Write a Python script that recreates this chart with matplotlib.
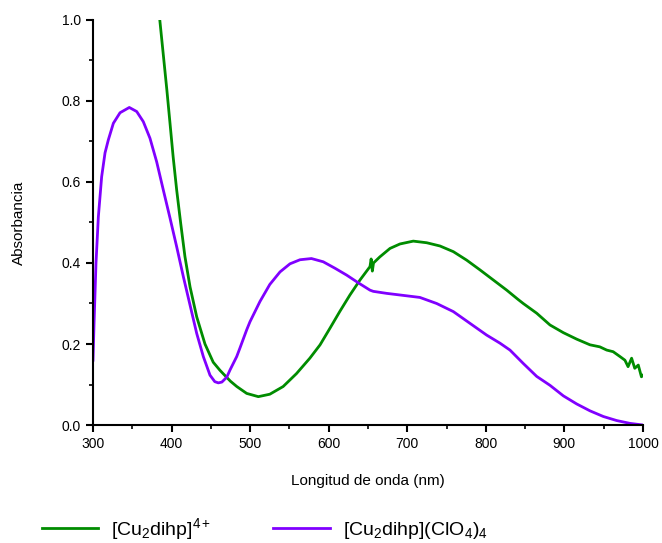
import matplotlib.pyplot as plt
from matplotlib.ticker import MultipleLocator

plt.rcParams['font.family'] = ['Liberation Sans', 'DejaVu Sans']
plt.rcParams['mathtext.fontset'] = 'custom'
plt.rcParams['mathtext.rm'] = 'Liberation Sans'
plt.rcParams['mathtext.it'] = 'Liberation Sans'
plt.rcParams['mathtext.default'] = 'regular'

# espectro [Cu2dihp]4+
wl_a = [385, 394, 398, 402, 406.5, 411.6, 417, 423.5, 432, 442.5, 453, 461.6, 468,
        475, 483, 495.6, 510.4, 525, 542, 559, 576, 589, 601.6, 614, 627, 639.8,
        652.5, 654, 655.5, 657, 665, 678, 690.7, 707.6, 724.7, 741.6, 758.6, 775.6,
        792.5, 809.5, 826.5, 841, 847.6, 864.7, 881.6, 898.6, 915.6, 932.5, 945,
        953.8, 962, 970.7, 977, 981, 985.5, 989.5, 994, 998, 1000]
abs_a = [1.0, 0.827, 0.745, 0.662, 0.58, 0.498, 0.416, 0.341, 0.267, 0.20, 0.155,
         0.135, 0.122, 0.108, 0.095, 0.078, 0.07, 0.076, 0.095, 0.127, 0.165, 0.198,
         0.239, 0.28, 0.321, 0.358, 0.391, 0.41, 0.38, 0.40, 0.415, 0.436, 0.447,
         0.454, 0.45, 0.442, 0.428, 0.407, 0.383, 0.358, 0.333, 0.31, 0.30, 0.276,
         0.247, 0.228, 0.212, 0.198, 0.193, 0.185, 0.181, 0.169, 0.16, 0.144, 0.165,
         0.14, 0.148, 0.119, 0.123]

# espectro [Cu2dihp](ClO4)4
wl_b = [300, 301.3, 303.8, 306.8, 311, 315.3, 319.5, 325.9, 334.4, 346.2, 355.6, 364,
        372.5, 381, 389.5, 398, 406.5, 415, 423.5, 432, 440.4, 448.9, 455, 459.5, 464,
        470.2, 474.4, 482.9, 487, 495.6, 499.8, 512.5, 525, 538, 550.7, 563.4, 578,
        593, 608, 622.9, 637.7, 652.5, 656.7, 673.8, 690.7, 716, 737.4, 758.6, 779.8,
        801, 818, 830.7, 847.6, 864.7, 881.6, 898.6, 915.6, 932.5, 949.5, 966.5,
        983.5, 1000]
abs_b = [0.16, 0.25, 0.40, 0.514, 0.613, 0.672, 0.704, 0.745, 0.771, 0.784, 0.774,
         0.749, 0.708, 0.65, 0.58, 0.511, 0.44, 0.366, 0.296, 0.226, 0.169, 0.123,
         0.107, 0.104, 0.106, 0.118, 0.136, 0.169, 0.19, 0.235, 0.255, 0.305, 0.347,
         0.378, 0.398, 0.408, 0.411, 0.403, 0.387, 0.37, 0.351, 0.333, 0.330, 0.325,
         0.321, 0.315, 0.30, 0.28, 0.251, 0.222, 0.202, 0.185, 0.152, 0.12, 0.098,
         0.072, 0.052, 0.035, 0.021, 0.011, 0.004, 0.0]

fig = plt.figure(figsize=(6.62, 5.43), dpi=100)
ax = fig.add_axes([0.1405, 0.2173, 0.8308, 0.7459])

ax.plot(wl_a, abs_a, color='#008c00', lw=2, label=r'[Cu$_2$dihp]$^{4+}$')
ax.plot(wl_b, abs_b, color='#8000ff', lw=2, label=r'[Cu$_2$dihp](ClO$_4$)$_4$')

ax.set_xlim(300, 1000)
ax.set_ylim(0, 1.0)
ax.xaxis.set_major_locator(MultipleLocator(100))
ax.xaxis.set_minor_locator(MultipleLocator(50))
ax.yaxis.set_major_locator(MultipleLocator(0.2))
ax.yaxis.set_minor_locator(MultipleLocator(0.1))
ax.yaxis.set_major_formatter(plt.FormatStrFormatter('%.1f'))
ax.spines['top'].set_visible(False)
ax.spines['right'].set_visible(False)
ax.spines['left'].set_linewidth(1.5)
ax.spines['bottom'].set_linewidth(1.5)
ax.tick_params(which='major', direction='out', length=5, width=1.5, labelsize=10)
ax.tick_params(which='minor', direction='out', length=3, width=1.2)

ax.set_xlabel('Longitud de onda (nm)', fontsize=11, labelpad=17)
ax.set_ylabel('Absorbancia', fontsize=11, labelpad=26)

fig.legend(loc='lower center', bbox_to_anchor=(0.40, -0.03), ncol=2, frameon=False,
           fontsize=14, handlelength=2.9, handletextpad=0.65, columnspacing=3.2)

fig.savefig('out.png', dpi=100)
